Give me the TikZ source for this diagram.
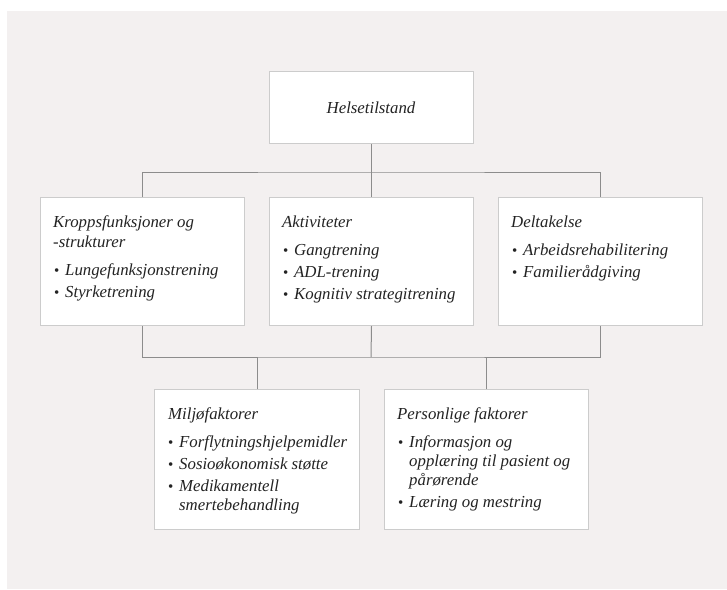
\documentclass[tikz,border=0pt]{standalone}
\usepackage{fontspec}
\setmainfont{Liberation Serif}
\definecolor{panel}{RGB}{243,240,240}
\definecolor{boxline}{RGB}{204,204,204}
\definecolor{conn}{RGB}{140,140,140}
\definecolor{txt}{RGB}{35,35,35}
\tikzset{
  card/.style={draw=boxline, fill=white, line width=1pt, inner sep=0pt, anchor=north west},
  lbl/.style={anchor=base west, inner sep=0pt, text=txt, font=\fontsize{16.8}{19}\selectfont\itshape},
  dot/.style={anchor=base west, inner sep=0pt, text=txt, font=\fontsize{15}{19}\selectfont},
  link/.style={draw=conn, line width=1pt},
}
\begin{document}
\begin{tikzpicture}[x=1pt,y=-1pt]
\useasboundingbox (0,0) rectangle (727,589);
\fill[white] (0,0) rectangle (727,589);
\fill[panel] (7,11) rectangle (727,589);

% boxes
\node[card, minimum width=204pt, minimum height=72pt]  (top) at (269,71) {};
\node[card, minimum width=204pt, minimum height=128pt] (b1)  at (40,197) {};
\node[card, minimum width=204pt, minimum height=128pt] (b2)  at (269,197) {};
\node[card, minimum width=204pt, minimum height=128pt] (b3)  at (498,197) {};
\node[card, minimum width=205pt, minimum height=140pt] (b4)  at (154,389) {};
\node[card, minimum width=204pt, minimum height=140pt] (b5)  at (384,389) {};

% connectors
\coordinate (busA) at (371,172);
\coordinate (busB) at (371,357);
\draw[link] (top.south) -- (b2.north);
\draw[link] (b1.north) |- (busA) -| (b3.north);
\draw[link] (b1.south) |- (busB) -| (b3.south);
\draw[link] (b2.south) -- (busB);
\draw[link] (b4.north) -- (b4.north |- busB);
\draw[link] (b5.north) -- (b5.north |- busB);

% top label
\node[lbl, anchor=base] (ttop) at (371,113) {Helsetilstand};

% box 1
\node[lbl] (t1a) at (53,227) {Kroppsfunksjoner og};
\node[lbl] (t1b) at (53,247) {-strukturer};
\node[dot] (d1a) at (54,275) {•};
\node[lbl] (i1a) at (65,275) {Lungefunksjonstrening};
\node[dot] (d1b) at (54,297) {•};
\node[lbl] (i1b) at (65,297) {Styrketrening};

% box 2
\node[lbl] (t2a) at (282,227) {Aktiviteter};
\node[dot] (d2a) at (283,255) {•};
\node[lbl] (i2a) at (294,255) {Gangtrening};
\node[dot] (d2b) at (283,277) {•};
\node[lbl] (i2b) at (294,277) {ADL-trening};
\node[dot] (d2c) at (283,299) {•};
\node[lbl] (i2c) at (294,299) {Kognitiv strategitrening};

% box 3
\node[lbl] (t3a) at (511,227) {Deltakelse};
\node[dot] (d3a) at (512,255) {•};
\node[lbl] (i3a) at (523,255) {Arbeidsrehabilitering};
\node[dot] (d3b) at (512,277) {•};
\node[lbl] (i3b) at (523,277) {Familierådgiving};

% box 4
\node[lbl] (t4a) at (168,419) {Miljøfaktorer};
\node[dot] (d4a) at (168,447) {•};
\node[lbl] (i4a) at (179,447) {Forflytningshjelpemidler};
\node[dot] (d4b) at (168,469) {•};
\node[lbl] (i4b) at (179,469) {Sosioøkonomisk støtte};
\node[dot] (d4c) at (168,491) {•};
\node[lbl] (i4c) at (179,491) {Medikamentell};
\node[lbl] (i4d) at (179,510) {smertebehandling};

% box 5
\node[lbl] (t5a) at (397,419) {Personlige faktorer};
\node[dot] (d5a) at (398,447) {•};
\node[lbl] (i5a) at (409,447) {Informasjon og};
\node[lbl] (i5b) at (409,466) {opplæring til pasient og};
\node[lbl] (i5c) at (409,485) {pårørende};
\node[dot] (d5b) at (398,507) {•};
\node[lbl] (i5d) at (409,507) {Læring og mestring};
\end{tikzpicture}
\end{document}
